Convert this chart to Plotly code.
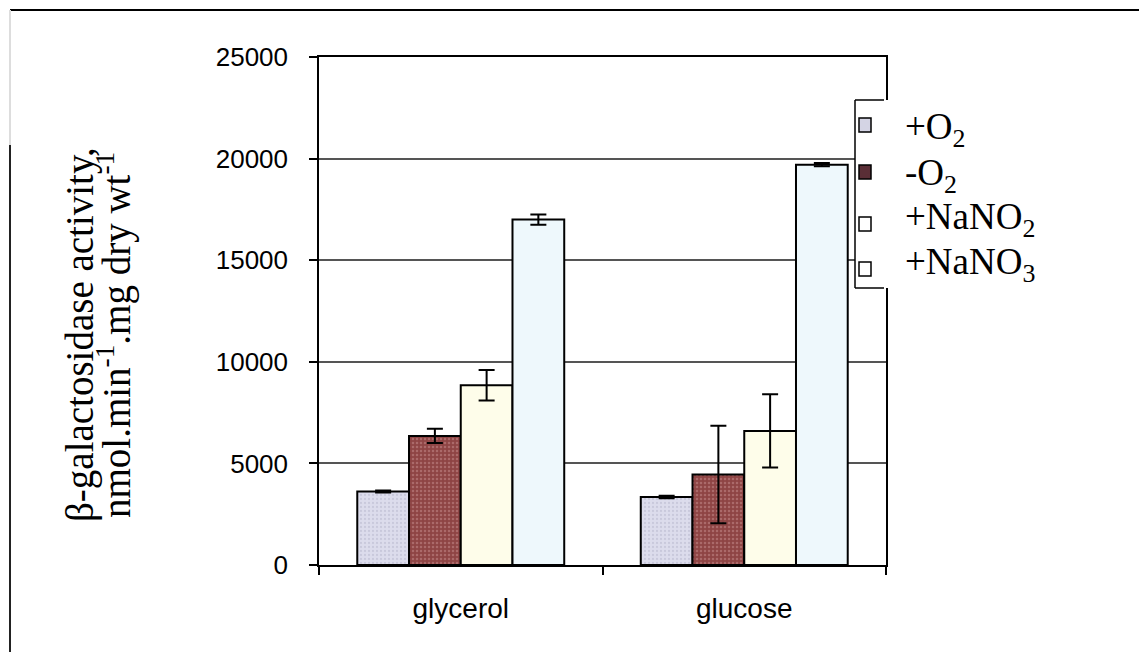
import plotly.graph_objects as go

categories = ["glycerol", "glucose"]
series_names = ["+O<sub>2</sub>", "-O<sub>2</sub>", "+NaNO<sub>2</sub>", "+NaNO<sub>3</sub>"]
plus_o2 = [3620, 3350]
plus_o2_err = [50, 60]
minus_o2 = [6350, 4450]
minus_o2_err = [350, 2400]
nano2 = [8850, 6600]
nano2_err = [750, 1800]
nano3 = [17000, 19700]
nano3_err = [250, 80]
y_ticks = [0, 5000, 10000, 15000, 20000, 25000]

W, H = 1139, 652
ML, MR, MT, MB = 319, 253, 57, 87
PW, PH = W - ML - MR, H - MT - MB


def px(x):
    return (x - ML) / PW


def py(y):
    return (H - MB - y) / PH


styles = [
    dict(bg="#dcdcec", fg="#b4b4cc", sol=0.25, leg="#d4d4e4"),
    dict(bg="#8e4444", fg="#c89090", sol=0.3, leg="#5a2e36"),
    dict(bg="#fefdea", fg="#fefdea", sol=0.0, leg="#ffffff"),
    dict(bg="#eef8fc", fg="#eef8fc", sol=0.0, leg="#ffffff"),
]
values = [plus_o2, minus_o2, nano2, nano3]
errors = [plus_o2_err, minus_o2_err, nano2_err, nano3_err]

fig = go.Figure()
for name, vals, errs, st in zip(series_names, values, errors, styles):
    marker = dict(color=st["bg"], line=dict(color="black", width=2))
    if st["sol"] > 0:
        marker["pattern"] = dict(shape=".", fgcolor=st["fg"], bgcolor=st["bg"],
                                 size=4, solidity=st["sol"])
    fig.add_trace(go.Bar(
        x=categories, y=vals, name=name, marker=marker, showlegend=False,
        error_y=dict(type="data", array=errs, visible=True,
                     color="black", thickness=2, width=8),
    ))

fig.update_layout(
    width=W, height=H,
    margin=dict(l=ML, r=MR, t=MT, b=MB, autoexpand=False),
    paper_bgcolor="white", plot_bgcolor="white",
    barmode="group", bargap=0.27, bargroupgap=0,
    showlegend=False,
    font=dict(family="Liberation Sans", color="black"),
)
fig.update_yaxes(range=[0, 25000], tickvals=y_ticks, ticktext=[str(v) for v in y_ticks],
                 showgrid=True, gridcolor="#555555", gridwidth=1.5,
                 showline=True, linecolor="black", linewidth=1.5, mirror=True,
                 ticks="outside", ticklen=8, tickcolor="black", tickwidth=1.5,
                 ticklabelstandoff=16,
                 tickfont=dict(family="Liberation Sans", size=26, color="black"),
                 zeroline=False)
fig.update_xaxes(showline=True, linecolor="black", linewidth=1.5, mirror=True,
                 ticks="outside", tickson="boundaries", ticklen=8,
                 tickcolor="black", tickwidth=1.5, ticklabelstandoff=18,
                 tickfont=dict(family="Liberation Sans", size=28, color="black"))

# Y-axis title as two rotated lines
fig.add_annotation(text="\u03b2-galactosidase activity,", xref="paper", yref="paper",
                   x=px(80), y=py(335), xanchor="center", yanchor="middle",
                   showarrow=False, textangle=-90,
                   font=dict(family="Liberation Serif", size=39, color="black"))
fig.add_annotation(text="nmol.min<sup>-1</sup>.mg dry wt<sup>-1</sup>", xref="paper", yref="paper",
                   x=px(114), y=py(335), xanchor="center", yanchor="middle",
                   showarrow=False, textangle=-90,
                   font=dict(family="Liberation Serif", size=39, color="black"))

# Legend panel (white box, bracket border, markers, labels)
fig.add_shape(type="rect", xref="paper", yref="paper", layer="above",
              x0=px(855), x1=px(1139), y0=py(100), y1=py(288),
              fillcolor="white", line=dict(width=0))
line = dict(color="black", width=1.5)
fig.add_shape(type="line", xref="paper", yref="paper", x0=px(855), x1=px(855), y0=py(100), y1=py(288), line=line)
fig.add_shape(type="line", xref="paper", yref="paper", x0=px(855), x1=px(884), y0=py(100), y1=py(100), line=line)
fig.add_shape(type="line", xref="paper", yref="paper", x0=px(855), x1=px(884), y0=py(288), y1=py(288), line=line)

marker_y = [125, 172, 224, 269]
text_y = [129, 175, 219, 264]
for name, st, my, ty in zip(series_names, styles, marker_y, text_y):
    fig.add_shape(type="rect", xref="paper", yref="paper", layer="above",
                  x0=px(859), x1=px(871), y0=py(my - 7), y1=py(my + 7),
                  fillcolor=st["leg"], line=dict(color="black", width=1.5))
    fig.add_annotation(text=name, xref="paper", yref="paper", x=px(903), y=py(ty),
                       xanchor="left", yanchor="middle", showarrow=False,
                       font=dict(family="Liberation Serif", size=37, color="black"))

# Outer frame
fig.add_shape(type="line", xref="paper", yref="paper", x0=px(10), x1=px(1139), y0=py(10), y1=py(10),
              line=dict(color="black", width=2))
fig.add_shape(type="line", xref="paper", yref="paper", x0=px(10), x1=px(10), y0=py(10), y1=py(145),
              line=dict(color="#dddddd", width=2))
fig.add_shape(type="line", xref="paper", yref="paper", x0=px(10), x1=px(10), y0=py(145), y1=py(652),
              line=dict(color="#222222", width=2))

fig.write_html("out.html")
